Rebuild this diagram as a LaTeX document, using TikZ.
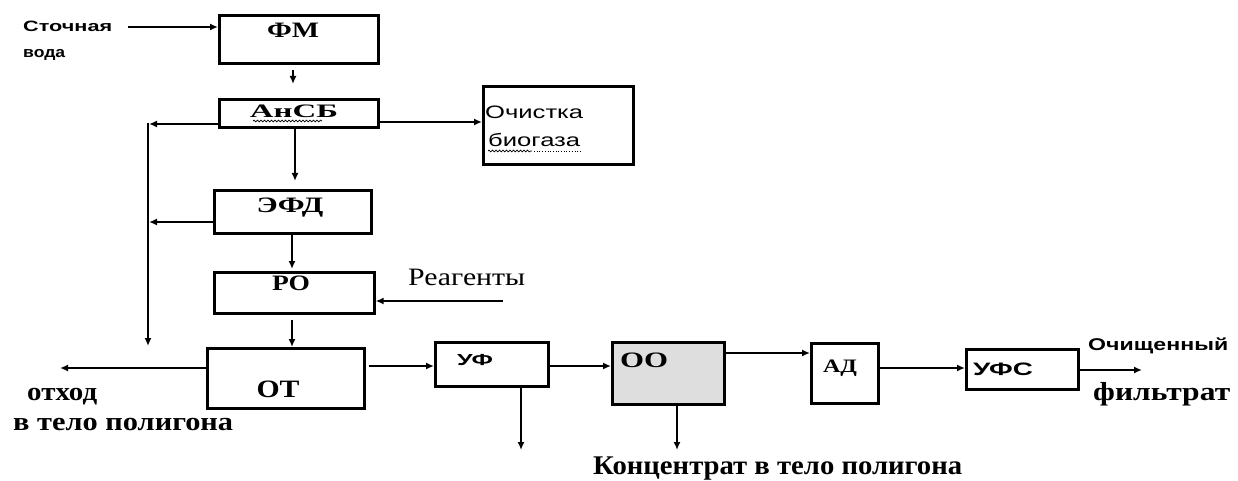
\documentclass[tikz,border=0pt]{standalone}
\usepackage{fontspec}
\setmainfont{Liberation Serif}
\newfontfamily\sansf{Liberation Sans}
\usepackage{graphicx}
\usetikzlibrary{arrows.meta,decorations.pathmorphing}
\newcommand{\fitw}[2]{\resizebox{#1pt}{\height}{#2}}
\begin{document}
\begin{tikzpicture}[x=1pt,y=-1pt,
  box/.style={draw, line width=2.6pt, inner sep=0pt, anchor=north west},
  con/.style={line width=1.6pt, -{Latex[length=8pt,width=7pt]}},
  serB/.style={font=\fontsize{#1}{#1}\selectfont\bfseries, inner sep=0pt},
  serR/.style={font=\fontsize{#1}{#1}\selectfont, inner sep=0pt},
  sanB/.style={font=\sansf\fontsize{#1}{#1}\selectfont\bfseries, inner sep=0pt},
  sanR/.style={font=\sansf\fontsize{#1}{#1}\selectfont, inner sep=0pt},
  wavy/.style={line width=0.7pt, decorate, decoration={snake, amplitude=0.9pt, segment length=3.5pt}}]
\useasboundingbox (0,0) rectangle (1238,481);

% boxes
\node[box, minimum width=159pt, minimum height=48pt] (FM) at (218,14) {};
\node[box, minimum width=159pt, minimum height=28pt] (AS) at (218,98) {};
\node[box, minimum width=150pt, minimum height=78pt] (OB) at (482,85) {};
\node[box, minimum width=157pt, minimum height=43pt] (EF) at (213,189) {};
\node[box, minimum width=160pt, minimum height=41pt] (RO) at (213,271) {};
\node[box, minimum width=157pt, minimum height=60pt] (OT) at (206,347) {};
\node[box, minimum width=113pt, minimum height=44pt] (UF) at (434,341) {};
\node[box, minimum width=112pt, minimum height=62pt, fill=black!13] (OO) at (611,341) {};
\node[box, minimum width=67pt, minimum height=60pt] (AD) at (810,342) {};
\node[box, minimum width=112pt, minimum height=40pt] (UFS) at (965,348) {};

% box labels
\node[serB=22, anchor=base] (tFM) at (293,38) {\fitw{52}{ФМ}};
\node[serB=19, anchor=base] (tAS) at (294,118) {\fitw{88}{АнСБ}};
\node[sanR=18, anchor=base west] (tOB1) at (485,119) {\fitw{98}{Очистка}};
\node[sanR=18, anchor=base west] (tOB2) at (488,147) {\fitw{92}{биогаза}};
\node[serB=22, anchor=base] (tEF) at (290,212) {\fitw{67}{ЭФД}};
\node[serB=22, anchor=base] (tRO) at (291,290) {\fitw{38}{РО}};
\node[serB=25, anchor=base] (tOT) at (278,397) {\fitw{43}{ОТ}};
\node[sanB=16, anchor=base] (tUF) at (475,365) {\fitw{36}{УФ}};
\node[serB=22, anchor=base] (tOO) at (644,367) {\fitw{48}{ОО}};
\node[serB=19, anchor=base] (tAD) at (840,372) {\fitw{34}{АД}};
\node[sanB=18, anchor=base] (tUFS) at (1003,375) {\fitw{60}{УФС}};

% spell-check underlines
\draw[wavy] (253,121) -- (322,121);
\draw[wavy] (488,151) -- (532,151);
\draw[line width=0.7pt, dotted] (534,151) -- (580,151);

% free texts
\node[sanB=15, anchor=base west] (tS1) at (23,32) {\fitw{89}{Сточная}};
\node[sanB=15, anchor=base west] (tS2) at (23,58) {\fitw{42}{вода}};
\node[serR=25, anchor=base west] (tRG) at (408,285) {\fitw{117}{Реагенты}};
\node[serB=26, anchor=base west] (tW1) at (27,400) {\fitw{70}{отход}};
\node[serB=26, anchor=base west] (tW2) at (13,430) {\fitw{220}{в тело полигона}};
\node[serB=27, anchor=base west] (tK) at (593,474) {\fitw{369}{Концентрат в тело полигона}};
\node[sanB=17, anchor=base west] (tP1) at (1088,350) {\fitw{140}{Очищенный}};
\node[serB=26, anchor=base west] (tP2) at (1093,400) {\fitw{137}{фильтрат}};

% connectors
\coordinate (inS) at (128,27);
\draw[con] (inS) -- (inS -| FM.west);
\coordinate (d1) at (293,70);
\coordinate (d2) at (293,84);
\draw[con] (d1) -- (d2);
\coordinate (vx1) at (295,0);
\draw[con, shorten >=8pt] (vx1 |- AS.south) -- (vx1 |- EF.north);
\coordinate (vx2) at (292,0);
\draw[con, shorten >=2pt] (vx2 |- EF.south) -- (vx2 |- RO.north);
\draw[con, shorten <=5pt] (vx2 |- RO.south) -- (vx2 |- OT.north);
\coordinate (hb) at (0,122);
\draw[con] (hb -| AS.east) -- (hb -| OB.west);
\coordinate (rg) at (503,301);
\draw[con] (rg) -- (rg -| RO.east);
\coordinate (cL1) at (149,124);
\draw[con] (cL1 -| AS.west) -- (cL1);
\coordinate (vt) at (148,123);
\coordinate (vb) at (148,346);
\draw[con] (vt) -- (vb);
\coordinate (cL2) at (149,222);
\draw[con] (cL2 -| EF.west) -- (cL2);
\coordinate (otL) at (60,368);
\draw[con] (otL -| OT.west) -- (otL);
\coordinate (h1) at (0,366);
\draw[con, shorten <=3pt] (h1 -| OT.east) -- (h1 -| UF.west);
\coordinate (u1) at (521,450);
\draw[con] (u1 |- UF.south) -- (u1);
\draw[con] (h1 -| UF.east) -- (h1 -| OO.west);
\coordinate (u2) at (677,450);
\draw[con] (u2 |- OO.south) -- (u2);
\coordinate (h3) at (0,353);
\draw[con] (h3 -| OO.east) -- (h3 -| AD.west);
\coordinate (h4) at (0,368);
\draw[con] (h4 -| AD.east) -- (h4 -| UFS.west);
\coordinate (h5) at (1142,370);
\draw[con] (h5 -| UFS.east) -- (h5);
\end{tikzpicture}
\end{document}
